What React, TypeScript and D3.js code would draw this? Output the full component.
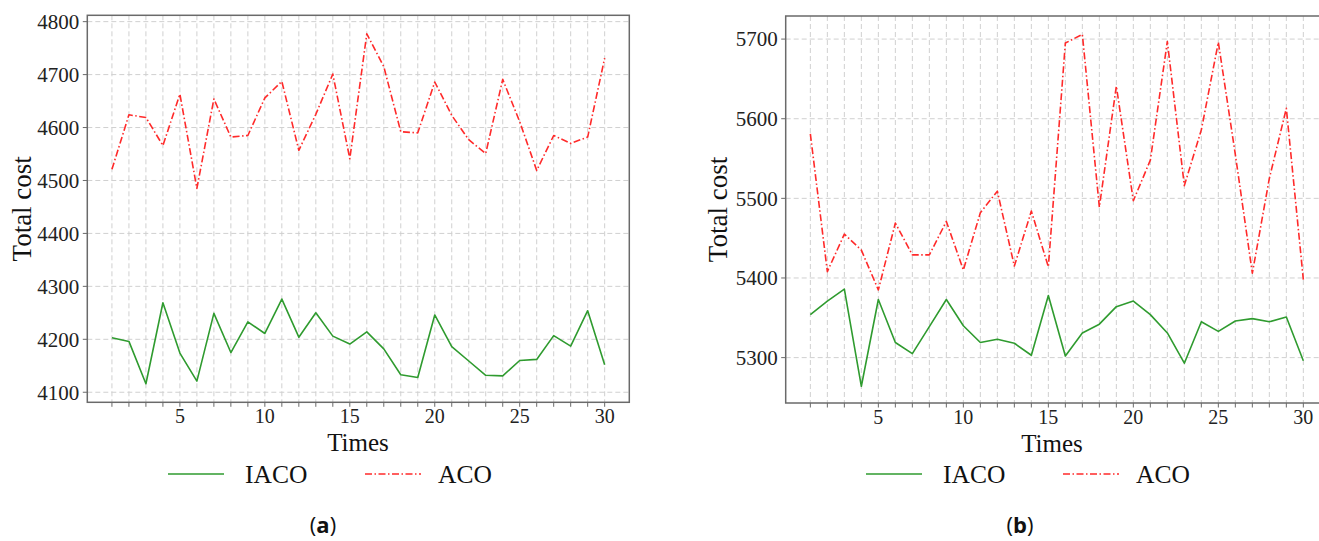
import React from "react";
import * as d3 from "d3";

const times = d3.range(1, 31);

const iacoA = [4203, 4196, 4116, 4269, 4174, 4121, 4249, 4175, 4233, 4211, 4276, 4204, 4250, 4206, 4191, 4214, 4182, 4133, 4128, 4246, 4186, 4159, 4132, 4131, 4160, 4162, 4207, 4187, 4254, 4152];
const acoA = [4521, 4624, 4619, 4566, 4663, 4485, 4654, 4582, 4585, 4656, 4687, 4557, 4625, 4701, 4541, 4777, 4715, 4592, 4590, 4686, 4623, 4577, 4551, 4691, 4611, 4519, 4585, 4570, 4582, 4731];

const iacoB = [5354, 5371, 5386, 5264, 5373, 5319, 5305, 5339, 5373, 5340, 5319, 5323, 5318, 5303, 5378, 5302, 5331, 5342, 5364, 5371, 5354, 5331, 5293, 5345, 5333, 5346, 5349, 5345, 5351, 5296];
const acoB = [5581, 5408, 5455, 5435, 5385, 5469, 5429, 5429, 5471, 5410, 5482, 5509, 5415, 5484, 5414, 5695, 5706, 5489, 5641, 5497, 5548, 5697, 5516, 5586, 5696, 5555, 5406, 5525, 5613, 5398];

const yTicksA = [4100, 4200, 4300, 4400, 4500, 4600, 4700, 4800];
const yTicksB = [5300, 5400, 5500, 5600, 5700];
const xTickLabels = [5, 10, 15, 20, 25, 30];

const seriesNames = ["IACO", "ACO"];

const GREEN = "#2f9b2f";
const RED = "#ff2a2a";
const SERIF = "'Liberation Serif', 'Times New Roman', serif";

type PanelProps = {
  left: number; right: number; top: number; bottom: number;
  xDomain: [number, number]; yDomain: [number, number];
  yTicks: number[]; iaco: number[]; aco: number[];
  ylabelX: number; xlabelCx: number; legendX: number; tag: string; tagX: number;
};

function Panel(p: PanelProps) {
  const x = d3.scaleLinear().domain(p.xDomain).range([p.left, p.right]);
  const y = d3.scaleLinear().domain(p.yDomain).range([p.bottom, p.top]);
  const line = d3.line<number>().x((_, i) => x(times[i])).y((d) => y(d));
  const clipId = "clip-" + p.tag;
  return (
    <g>
      <defs>
        <clipPath id={clipId}>
          <rect x={p.left} y={p.top} width={p.right - p.left} height={p.bottom - p.top} />
        </clipPath>
      </defs>
      {times.map((t) => (
        <line key={"gx" + t} x1={x(t)} x2={x(t)} y1={p.top} y2={p.bottom} stroke="#d0d0d0" strokeWidth={1} strokeDasharray="5,3" />
      ))}
      {p.yTicks.map((v) => (
        <line key={"gy" + v} x1={p.left} x2={p.right} y1={y(v)} y2={y(v)} stroke="#d0d0d0" strokeWidth={1} strokeDasharray="5,3" />
      ))}
      <g clipPath={`url(#${clipId})`}>
        <path d={line(p.iaco) || ""} fill="none" stroke={GREEN} strokeWidth={1.6} strokeLinejoin="round" />
        <path d={line(p.aco) || ""} fill="none" stroke={RED} strokeWidth={1.6} strokeDasharray="7,2.5,1.5,2.5" strokeLinejoin="round" />
      </g>
      <rect x={p.left} y={p.top} width={p.right - p.left} height={p.bottom - p.top} fill="none" stroke="#6a6a6a" strokeWidth={1.5} />
      {p.yTicks.map((v) => (
        <g key={"ty" + v}>
          <line x1={p.left - 4.5} x2={p.left} y1={y(v)} y2={y(v)} stroke="#6a6a6a" strokeWidth={1} />
          <text x={p.left - 8} y={y(v)} dy="0.35em" textAnchor="end" fontFamily={SERIF} fontSize={21} fill="#222">{v}</text>
        </g>
      ))}
      {times.map((t) => (
        <line key={"tx" + t} x1={x(t)} x2={x(t)} y1={p.bottom} y2={p.bottom + 4.5} stroke="#6a6a6a" strokeWidth={1} />
      ))}
      {xTickLabels.map((t) => (
        <text key={"lx" + t} x={x(t)} y={p.bottom + 21} textAnchor="middle" fontFamily={SERIF} fontSize={20} fill="#222">{t}</text>
      ))}
      <text x={p.xlabelCx} y={p.bottom + 49} textAnchor="middle" fontFamily={SERIF} fontSize={25} fill="#111">Times</text>
      <text transform={`translate(${p.ylabelX},${(p.top + p.bottom) / 2}) rotate(-90)`} textAnchor="middle" fontFamily={SERIF} fontSize={27} fill="#111">Total cost</text>
      <g transform={`translate(${p.legendX},474)`}>
        <line x1={0} x2={56} y1={0} y2={0} stroke={GREEN} strokeWidth={1.6} />
        <text x={77} y={0} dy="0.35em" fontFamily={SERIF} fontSize={25.5} fill="#111">{seriesNames[0]}</text>
        <line x1={197} x2={253} y1={0} y2={0} stroke={RED} strokeWidth={1.6} strokeDasharray="7,2.5,1.5,2.5" />
        <text x={270} y={0} dy="0.35em" fontFamily={SERIF} fontSize={25.5} fill="#111">{seriesNames[1]}</text>
      </g>
      <text x={p.tagX} y={533} textAnchor="middle" fontFamily="'Open Sans', 'Liberation Sans', Arial, sans-serif" fontSize={22} fill="#111">
        (<tspan fontWeight="bold">{p.tag}</tspan>)
      </text>
    </g>
  );
}

export default function App() {
  return (
    <svg width={1319} height={541} style={{ position: "absolute", left: 0, top: 0, background: "#fff" }}>
      <rect x={0} y={0} width={1319} height={541} fill="#fff" />
      <Panel left={87.3} right={629.3} top={15.3} bottom={402.3}
        xDomain={[-0.45, 31.45]} yDomain={[4081, 4812]} yTicks={yTicksA}
        iaco={iacoA} aco={acoA} ylabelX={31} xlabelCx={358} legendX={168} tag="a" tagX={323} />
      <Panel left={785.7} right={1320} top={16} bottom={403}
        xDomain={[-0.45, 30.98]} yDomain={[5243, 5729]} yTicks={yTicksB}
        iaco={iacoB} aco={acoB} ylabelX={727} xlabelCx={1052} legendX={866} tag="b" tagX={1020} />
    </svg>
  );
}
